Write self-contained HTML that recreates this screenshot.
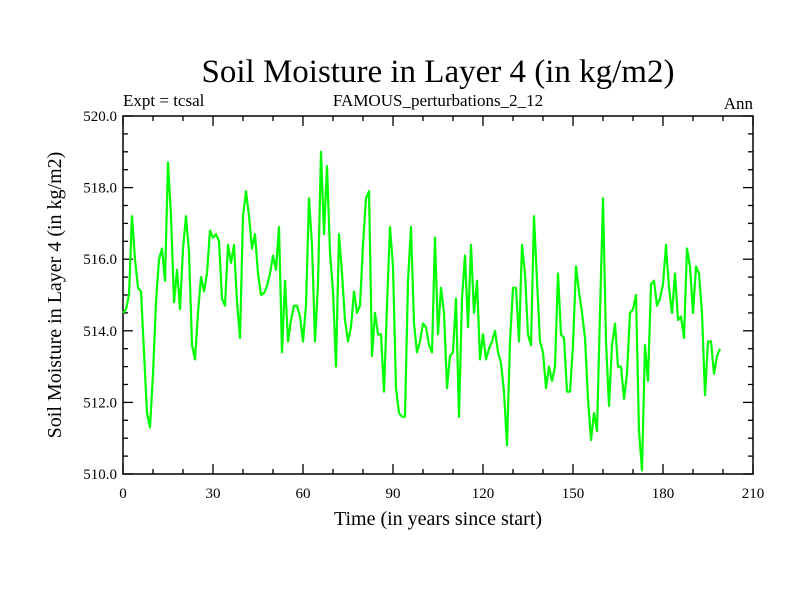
<!DOCTYPE html>
<html><head><meta charset="utf-8"><style>body{margin:0;background:#fff}svg{display:block}</style></head>
<body>
<svg id="chart" width="800" height="600" xmlns="http://www.w3.org/2000/svg" font-family="'Liberation Serif', serif">
<rect width="800" height="600" fill="#fff"/>
<text x="438" y="82" font-size="33" text-anchor="middle">Soil Moisture in Layer 4 (in kg/m2)</text>
<text x="123" y="106" font-size="17">Expt = tcsal</text>
<text x="438" y="106" font-size="17" text-anchor="middle">FAMOUS_perturbations_2_12</text>
<text x="753" y="109" font-size="17" text-anchor="end">Ann</text>
<text x="438" y="525" font-size="20" text-anchor="middle">Time (in years since start)</text>
<text x="0" y="0" font-size="20" text-anchor="middle" transform="translate(61,295) rotate(-90)">Soil Moisture in Layer 4 (in kg/m2)</text>
<g id="axes"></g>
<g id="series"></g>
</svg>
<script>
const years = Array.from({length:200},(_,i)=>i);
const moisture = [
514.5,514.6,515.0,517.2,516.0,515.2,515.1,513.4,511.7,511.3,
512.8,514.8,516.0,516.3,515.4,518.7,517.2,514.8,515.7,514.6,
516.3,517.2,516.2,513.6,513.2,514.5,515.5,515.1,515.6,516.8,
516.6,516.7,516.5,514.9,514.7,516.4,515.9,516.4,514.8,513.8,
517.2,517.9,517.2,516.3,516.7,515.6,515.0,515.05,515.25,515.6,
516.1,515.7,516.9,513.4,515.4,513.7,514.3,514.7,514.7,514.4,
513.7,514.7,517.7,516.4,513.7,515.3,519.0,516.7,518.6,516.2,
515.1,513.0,516.7,515.6,514.3,513.7,514.1,515.1,514.5,514.7,
516.4,517.7,517.9,513.3,514.5,513.9,513.9,512.3,514.7,516.9,
515.8,512.4,511.7,511.6,511.6,515.4,516.9,514.2,513.4,513.7,
514.2,514.1,513.6,513.4,516.6,513.9,515.2,514.5,512.4,513.3,
513.4,514.9,511.6,514.9,516.1,514.1,516.4,514.5,515.4,513.2,
513.9,513.2,513.5,513.7,514.0,513.4,513.1,512.3,510.8,513.7,
515.2,515.2,513.7,516.4,515.6,513.9,513.6,517.2,515.4,513.7,
513.4,512.4,513.0,512.6,513.0,515.6,513.9,513.8,512.3,512.3,
513.6,515.8,515.1,514.5,513.8,512.1,510.95,511.7,511.2,514.5,
517.7,513.7,511.9,513.6,514.2,513.0,513.0,512.1,512.8,514.5,
514.6,515.0,511.2,510.1,513.6,512.6,515.3,515.4,514.7,514.9,
515.3,516.4,515.2,514.5,515.6,514.3,514.4,513.8,516.3,515.8,
514.5,515.8,515.6,514.5,512.2,513.7,513.7,512.8,513.3,513.5];
const xTicks = [0,30,60,90,120,150,180,210];
const yTicks = [510,512,514,516,518,520];
const yTickLabels = ["510.0","512.0","514.0","516.0","518.0","520.0"];

const X0=123,X1=753,Y0=474,Y1=116;
const xs=v=>X0+(v-0)/(210-0)*(X1-X0);
const ys=v=>Y0-(v-510)/(520-510)*(Y0-Y1);
const NS="http://www.w3.org/2000/svg";
const axes=document.getElementById('axes');
function mk(tag,attrs,parent){const e=document.createElementNS(NS,tag);for(const k in attrs)e.setAttribute(k,attrs[k]);parent.appendChild(e);return e;}
const frame=mk('rect',{x:X0,y:Y1,width:X1-X0,height:Y0-Y1,fill:'none',stroke:'#000','stroke-width':1.5},axes);


for(let v=0;v<=210;v+=10){const maj=v%30===0;const L=maj?10:5;
 mk('line',{x1:xs(v),x2:xs(v),y1:Y0,y2:Y0-L,stroke:'#000','stroke-width':1.3},axes);
 mk('line',{x1:xs(v),x2:xs(v),y1:Y1,y2:Y1+L,stroke:'#000','stroke-width':1.3},axes);}
for(let v=510;v<=520.001;v+=0.5){const maj=Math.abs(v/2-Math.round(v/2))<1e-6;const L=maj?10:5;
 mk('line',{x1:X0,x2:X0+L,y1:ys(v),y2:ys(v),stroke:'#000','stroke-width':1.3},axes);
 mk('line',{x1:X1,x2:X1-L,y1:ys(v),y2:ys(v),stroke:'#000','stroke-width':1.3},axes);}
xTicks.forEach(v=>{const t=mk('text',{x:xs(v),y:Y0+24,'font-size':15,'text-anchor':'middle'},axes);t.textContent=v;
 
 });
yTicks.forEach((v,i)=>{const t=mk('text',{x:X0-6,y:ys(v)+5,'font-size':15,'text-anchor':'end'},axes);t.textContent=yTickLabels[i];
 
 });
const pts=years.map((y,i)=>xs(y).toFixed(1)+','+ys(moisture[i]).toFixed(1)).join(' ');
const line=mk('polyline',{points:pts,fill:'none',stroke:'#00ff00','stroke-width':2.2,'stroke-linejoin':'round'},document.getElementById('series'));


</script>
</body></html>
